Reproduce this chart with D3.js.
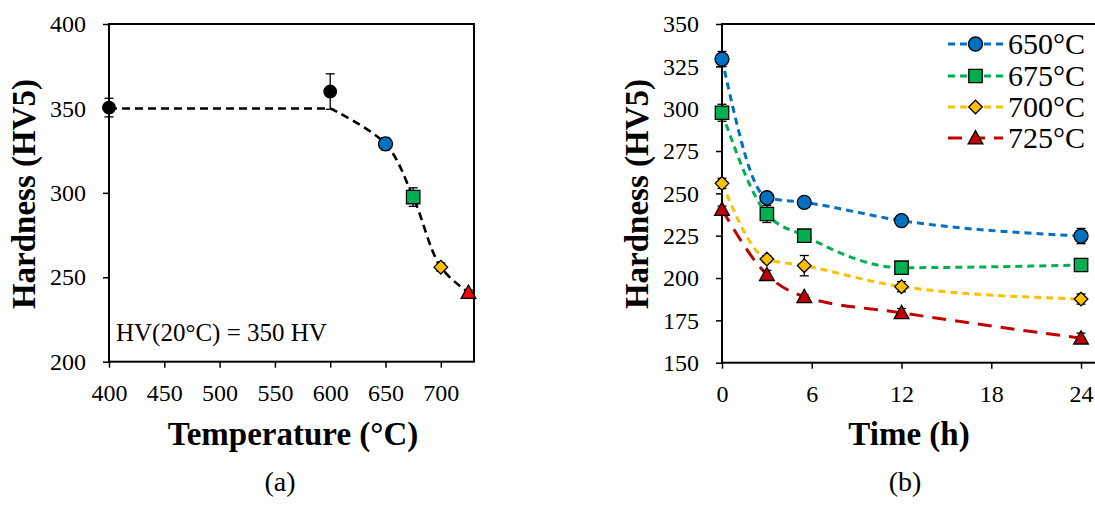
<!DOCTYPE html>
<html><head><meta charset="utf-8">
<script src="https://cdn.jsdelivr.net/npm/d3@7"></script>
<style>
html,body{margin:0;padding:0;background:#fff;}
svg{display:block;font-family:"Liberation Serif","Times New Roman",serif;}
</style></head>
<body>
<svg id="chart" width="1095" height="505"></svg>
<script>
// ---------- Data: panel (a) ----------
const tempX = [400, 600, 650, 675, 700, 725];
const tempHardness = [350.5, 360, 329, 297.5, 256, 241];
const tempErr = [5.5, 10.5, 3.5, 5.5, 2.5, 1.5];
const trendHardness = [350, 350, 329, 297.5, 256, 241];
const tempShapes = ["circle", "circle", "circle", "square", "diamond", "triangle"];
const tempColors = ["#000000", "#000000", "#0070C0", "#00B050", "#FFC000", "#FF0000"];
const tempXTicks = [400, 450, 500, 550, 600, 650, 700];
const tempYTicks = [200, 250, 300, 350, 400];

// ---------- Data: panel (b) ----------
const times = [0, 3, 5.5, 12, 24];
const seriesNames = ["650°C", "675°C", "700°C", "725°C"];
const h650 = [329.3, 247.4, 244.7, 233.9, 224.8];
const h675 = [297.6, 237.8, 225.0, 206.1, 207.7];
const h700 = [255.9, 211.2, 207.3, 194.9, 187.6];
const h725 = [240.5, 202.0, 189.0, 179.5, 164.5];
const e650 = [4.5, 2.5, 1.5, 2, 4.5];
const e675 = [5, 5, 1, 1, 1];
const e700 = [3, 2, 6, 3, 3];
const e725 = [2, 2.5, 1, 2.5, 3];
const seriesShapes = ["circle", "square", "diamond", "triangle"];
const seriesColors = ["#0070C0", "#00B050", "#FFC000", "#C00000"];
const seriesDash = ["7,5", "7,5", "7,5", "14,9"];
const timeXTicks = [0, 6, 12, 18, 24];
const timeYTicks = [150, 175, 200, 225, 250, 275, 300, 325, 350];

const svg = d3.select("#chart");

function markerPath(shape, s) {
  if (shape === "circle") {
    const p = d3.path(); p.arc(0, 0, s, 0, 2 * Math.PI); return p.toString();
  }
  if (shape === "square") return `M${-s},${-s}H${s}V${s}H${-s}Z`;
  if (shape === "diamond") { const d = s * 1.05; return `M0,${-d}L${d},0L0,${d}L${-d},0Z`; }
  if (shape === "triangle") { const w = s * 1.05; return `M0,${-w}L${w},${w * 0.8}L${-w},${w * 0.8}Z`; }
}
const markerSize = {circle: 7, square: 6.7, diamond: 6.5, triangle: 7};

function styleAxis(g, fs) {
  g.selectAll(".domain").remove();
  g.selectAll(".tick line").attr("stroke", "#000").attr("stroke-width", 1.5);
  g.selectAll(".tick text").attr("fill", "#000").style("font-size", fs + "px")
    .style("font-family", '"Liberation Serif","Times New Roman",serif');
}

// ================= Panel (a) =================
const xa = d3.scaleLinear().domain([400, 730]).range([109, 474]);
const ya = d3.scaleLinear().domain([200, 400]).range([361.7, 24]);

svg.append("g").attr("transform", `translate(0,${ya(200)})`)
  .call(d3.axisBottom(xa).tickValues(tempXTicks).tickSize(6).tickPadding(16).tickSizeOuter(0))
  .call(g => styleAxis(g, 24));
svg.append("g").attr("transform", `translate(${xa(400)},0)`)
  .call(d3.axisLeft(ya).tickValues(tempYTicks).tickSize(6).tickPadding(17).tickSizeOuter(0))
  .call(g => styleAxis(g, 24));

svg.append("rect").attr("x", xa(400)).attr("y", ya(400))
  .attr("width", xa(730) - xa(400)).attr("height", ya(200) - ya(400))
  .attr("fill", "none").attr("stroke", "#000").attr("stroke-width", 2);

// straight plateau, then smoothed drop
const flatPart = d3.line().x((d, i) => xa(tempX[i])).y(d => ya(d))(trendHardness.slice(0, 2));
const dropPart = d3.line().x((d, i) => xa(tempX[i + 1])).y(d => ya(d))
  .curve(d3.curveCatmullRom.alpha(0.5))(trendHardness.slice(1)).replace(/^M/, "L");
svg.append("path").attr("d", flatPart + dropPart)
  .attr("fill", "none").attr("stroke", "#000").attr("stroke-width", 2.6).attr("stroke-dasharray", "8,5");

const ga = svg.append("g");
tempX.forEach((t, i) => {
  const cx = xa(t), v = tempHardness[i], e = tempErr[i];
  ga.append("line").attr("x1", cx).attr("x2", cx).attr("y1", ya(v + e)).attr("y2", ya(v - e)).attr("stroke", "#000").attr("stroke-width", 1.3);
  [v + e, v - e].forEach(val => ga.append("line").attr("x1", cx - 4.5).attr("x2", cx + 4.5).attr("y1", ya(val)).attr("y2", ya(val)).attr("stroke", "#000").attr("stroke-width", 1.3));
});
tempX.forEach((t, i) => {
  const sh = tempShapes[i];
  const s = (i < 2) ? 6.3 : markerSize[sh];
  ga.append("path").attr("d", markerPath(sh, s))
    .attr("transform", `translate(${xa(t)},${ya(tempHardness[i])})`)
    .attr("fill", tempColors[i]).attr("stroke", "#000").attr("stroke-width", 1.3);
});

svg.append("text").attr("x", 116).attr("y", 340.5).style("font-size", "25px").text("HV(20°C) = 350 HV");

svg.append("text").attr("x", 293).attr("y", 445).attr("text-anchor", "middle")
  .style("font-size", "33px").style("font-weight", "bold").text("Temperature (°C)");
svg.append("text").attr("transform", `translate(35,194) rotate(-90)`).attr("text-anchor", "middle")
  .style("font-size", "33px").style("font-weight", "bold").text("Hardness (HV5)");
svg.append("text").attr("x", 280).attr("y", 491).attr("text-anchor", "middle")
  .style("font-size", "28px").text("(a)");

// ================= Panel (b) =================
const xb = d3.scaleLinear().domain([0, 25]).range([722, 1096]);
const yb = d3.scaleLinear().domain([150, 350]).range([362.7, 24]);

svg.append("g").attr("transform", `translate(0,${yb(150)})`)
  .call(d3.axisBottom(xb).tickValues(timeXTicks).tickSize(6).tickPadding(16).tickSizeOuter(0))
  .call(g => styleAxis(g, 24));
svg.append("g").attr("transform", `translate(${xb(0)},0)`)
  .call(d3.axisLeft(yb).tickValues(timeYTicks).tickSize(6).tickPadding(17).tickSizeOuter(0))
  .call(g => styleAxis(g, 24));

svg.append("rect").attr("x", xb(0)).attr("y", yb(350))
  .attr("width", xb(25) - xb(0)).attr("height", yb(150) - yb(350))
  .attr("fill", "none").attr("stroke", "#000").attr("stroke-width", 2);

const seriesVals = [h650, h675, h700, h725];
const seriesErr = [e650, e675, e700, e725];
const lineB = d3.line().x((d, i) => xb(times[i])).y(d => yb(d)).curve(d3.curveMonotoneX);

seriesVals.forEach((vals, k) => {
  svg.append("path").attr("d", lineB(vals)).attr("fill", "none")
    .attr("stroke", seriesColors[k]).attr("stroke-width", 3).attr("stroke-dasharray", seriesDash[k]);
});
const gb = svg.append("g");
seriesVals.forEach((vals, k) => {
  vals.forEach((v, i) => {
    const cx = xb(times[i]), e = seriesErr[k][i];
    gb.append("line").attr("x1", cx).attr("x2", cx).attr("y1", yb(v + e)).attr("y2", yb(v - e)).attr("stroke", "#000").attr("stroke-width", 1.3);
    [v + e, v - e].forEach(val => gb.append("line").attr("x1", cx - 4.5).attr("x2", cx + 4.5).attr("y1", yb(val)).attr("y2", yb(val)).attr("stroke", "#000").attr("stroke-width", 1.3));
  });
});
seriesVals.forEach((vals, k) => {
  vals.forEach((v, i) => {
    gb.append("path").attr("d", markerPath(seriesShapes[k], markerSize[seriesShapes[k]]))
      .attr("transform", `translate(${xb(times[i])},${yb(v)})`)
      .attr("fill", seriesColors[k]).attr("stroke", "#000").attr("stroke-width", 1.3);
  });
});

// legend
const legY = [44, 76, 107, 138];
seriesNames.forEach((name, k) => {
  const y = legY[k];
  svg.append("line").attr("x1", 948).attr("x2", 1003).attr("y1", y).attr("y2", y)
    .attr("stroke", seriesColors[k]).attr("stroke-width", 3).attr("stroke-dasharray", seriesDash[k]);
  svg.append("path").attr("d", markerPath(seriesShapes[k], markerSize[seriesShapes[k]]))
    .attr("transform", `translate(975.5,${y})`)
    .attr("fill", seriesColors[k]).attr("stroke", "#000").attr("stroke-width", 1.3);
  svg.append("text").attr("x", 1008).attr("y", y + 10).style("font-size", "30px").text(name);
});

svg.append("text").attr("x", 909).attr("y", 445).attr("text-anchor", "middle")
  .style("font-size", "33px").style("font-weight", "bold").text("Time (h)");
svg.append("text").attr("transform", `translate(648,194) rotate(-90)`).attr("text-anchor", "middle")
  .style("font-size", "33px").style("font-weight", "bold").text("Hardness (HV5)");
svg.append("text").attr("x", 905).attr("y", 491).attr("text-anchor", "middle")
  .style("font-size", "28px").text("(b)");
</script>
</body></html>
